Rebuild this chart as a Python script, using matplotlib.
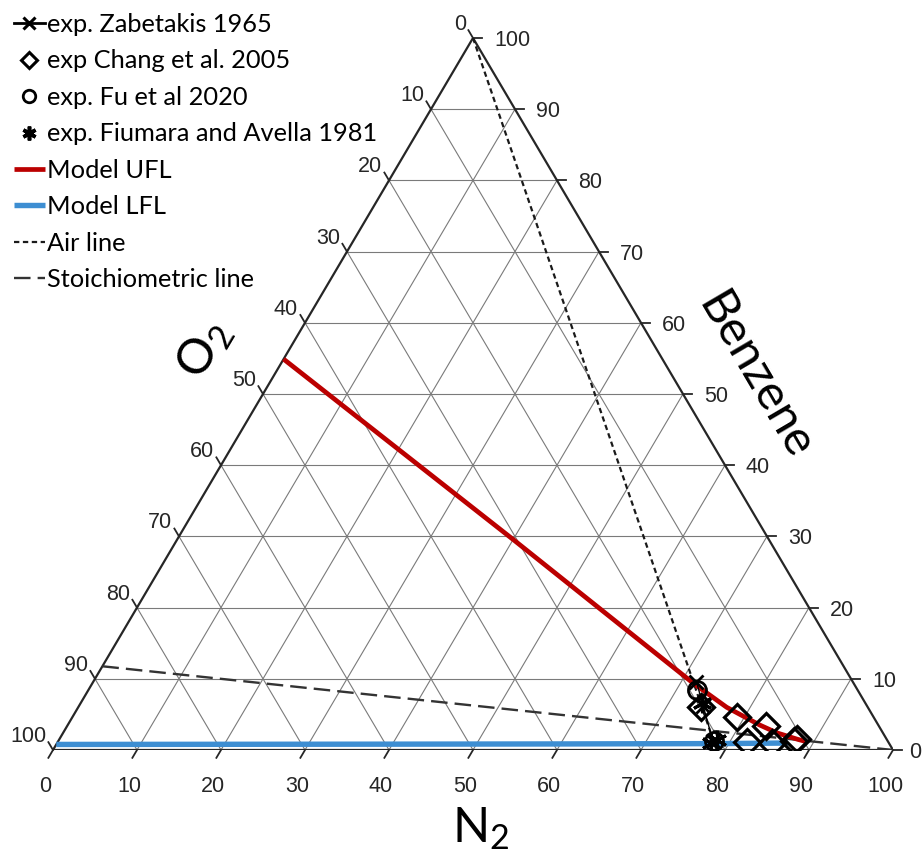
import numpy as np
import matplotlib
matplotlib.use("Agg")
import matplotlib.pyplot as plt
from matplotlib.transforms import offset_copy

plt.rcParams['mathtext.default'] = 'regular'

# ---------------- data (percent) ----------------
ticks = [0, 10, 20, 30, 40, 50, 60, 70, 80, 90, 100]

ufl_n2 = [0.0, 40.1, 71.5, 77.2, 82.4, 85.0, 87.9, 89.0]
ufl_bz = [54.9, 29.5, 9.4, 6.0, 3.5, 2.4, 1.5, 1.2]

lfl_n2 = [0.0, 20.0, 40.0, 60.0, 79.0, 87.0]
lfl_bz = [0.78, 0.80, 0.82, 0.85, 0.90, 0.98]

zab_n2 = [71.8, 74.3, 77.9]
zab_bz = [9.6, 6.2, 1.3]

chang_n2 = [74.1, 79.1, 83.2, 87.8, 82.1, 85.1, 87.6]
chang_bz = [6.0, 4.6, 3.4, 1.5, 1.1, 1.0, 1.3]

fu_n2 = [72.5, 78.0]
fu_bz = [8.4, 1.3]

fium_n2 = [74.0, 77.8, 78.3]
fium_bz = [6.6, 1.0, 1.4]

air_n2 = [0.0, 79.0]
air_bz = [100.0, 0.0]

stoich_n2 = [0.0, 100.0]
stoich_bz = [11.76, 0.0]

labels = ["exp. Zabetakis 1965", "exp Chang et al. 2005", "exp. Fu et al 2020",
          "exp. Fiumara and Avella 1981", "Model UFL", "Model LFL",
          "Air line", "Stoichiometric line"]


def cart(n2, bz):
    n2 = np.asarray(n2, float) / 100.0
    bz = np.asarray(bz, float) / 100.0
    return n2 + bz / 2.0, bz


W, H = 923, 852
fig = plt.figure(figsize=(W / 100, H / 100), dpi=100)
ax = fig.add_axes([53 / W, 102 / H, 840 / W, 712 / H])
ax.set_xlim(0, 1)
ax.set_ylim(0, 1)
ax.axis('off')

grid_c = '#7a7a7a'
edge_c = '#262626'
txt_c = '#262626'

# grid lines
for t in ticks[1:-1]:
    x, y = cart([0, 100 - t], [t, t])          # constant benzene
    ax.plot(x, y, color=grid_c, lw=0.8, zorder=1)
    x, y = cart([t, t], [0, 100 - t])          # constant N2
    ax.plot(x, y, color=grid_c, lw=0.8, zorder=1)
    x, y = cart([100 - t, 0], [0, 100 - t])    # constant O2
    ax.plot(x, y, color=grid_c, lw=0.8, zorder=1)

# triangle edges
x, y = cart([0, 100, 0, 0], [0, 0, 100, 0])
ax.plot(x, y, color=edge_c, lw=1.6, zorder=2, solid_joinstyle='miter')

# ticks and tick labels
d = 1.1
tfont = dict(family='Liberation Sans', size=15.5, color=txt_c)
for t in ticks:
    # bottom: N2
    x, y = cart([t, t], [0, -d])
    ax.plot(x, y, color=edge_c, lw=1.3, clip_on=False, zorder=2)
    x0, y0 = cart(t, 0)
    ax.text(x0, y0, str(t), ha='center', va='baseline',
            transform=offset_copy(ax.transData, fig, x=-8, y=-42, units='dots'), **tfont)
    # left: O2
    x, y = cart([0, -d], [100 - t, 100 - t + d])
    ax.plot(x, y, color=edge_c, lw=1.3, clip_on=False, zorder=2)
    x0, y0 = cart(0, 100 - t)
    ax.text(x0, y0, str(t), ha='right', va='baseline',
            transform=offset_copy(ax.transData, fig, x=-7, y=8, units='dots'), **tfont)
    # right: benzene
    x, y = cart([100 - t, 100 - t + d], [t, t])
    ax.plot(x, y, color=edge_c, lw=1.3, clip_on=False, zorder=2)
    x0, y0 = cart(100 - t, t)
    dx = 21 if t > 0 else 16
    ax.text(x0, y0, str(t), ha='left', va='baseline',
            transform=offset_copy(ax.transData, fig, x=dx, y=-8, units='dots'), **tfont)

# reference lines
h_air, = ax.plot(*cart(air_n2, air_bz), color='#1a1a1a', lw=1.6,
                 linestyle=(0, (2.4, 1.6)), zorder=3)
h_st, = ax.plot(*cart(stoich_n2, stoich_bz), color='#333333', lw=1.7,
                linestyle=(0, (7.0, 3.0)), zorder=3)

# model lines
h_lfl, = ax.plot(*cart(lfl_n2, lfl_bz), color='#3d8ed2', lw=3.9,
                 solid_capstyle='butt', zorder=4)
h_ufl, = ax.plot(*cart(ufl_n2, ufl_bz), color='#bb0000', lw=3.4,
                 solid_capstyle='butt', zorder=5)

# experiments
h_zab, = ax.plot(*cart(zab_n2, zab_bz), color='black', lw=1.0, marker='x',
                 ms=10, mew=2.0, zorder=6)
h_chang, = ax.plot(*cart(chang_n2, chang_bz), linestyle='none', marker='D',
                   ms=13.5, mfc='none', mec='black', mew=2.3, zorder=7)
h_fu, = ax.plot(*cart(fu_n2, fu_bz), linestyle='none', marker='o',
                ms=13, mfc='none', mec='black', mew=2.0, zorder=7)
h_fium, = ax.plot(*cart(fium_n2, fium_bz), linestyle='none', marker=(6, 2, 0),
                  ms=14, mfc='none', mec='black', mew=2.2, zorder=7)

handles = [h_zab, h_chang, h_fu, h_fium, h_ufl, h_lfl, h_air, h_st]
leg = ax.legend(handles, labels, loc='upper left',
                bbox_to_anchor=(14 / W, 1 - 13 / H), bbox_transform=fig.transFigure,
                frameon=False, prop={'family': 'Lato', 'size': 18.3},
                handlelength=1.2, handletextpad=0.1, labelspacing=0.53,
                borderpad=0, borderaxespad=0, markerscale=1.0, numpoints=1)
for tx in leg.get_texts():
    tx.set_color('black')
lh = leg.legend_handles
lh[0].set_markersize(9); lh[0].set_markeredgewidth(2.2); lh[0].set_linewidth(2.0)
lh[1].set_markersize(8.5); lh[1].set_markeredgewidth(2.2)
lh[2].set_markersize(9); lh[2].set_markeredgewidth(2.0)
lh[3].set_markersize(10); lh[3].set_markeredgewidth(2.6)

# axis titles
title_font = dict(family='Lato', size=35, color='black')
fig.text(481 / W, 1 - 842 / H, r'N$_2$', ha='center', va='baseline', **title_font)
fig.text(204 / W, 1 - 350 / H, r'O$_2$', ha='center', va='center',
         rotation=59.3, **title_font)
fig.text(755 / W, 1 - 376 / H, 'Benzene', ha='center', va='center',
         rotation=-59.6, **title_font)

fig.savefig('out.png', dpi=100)
